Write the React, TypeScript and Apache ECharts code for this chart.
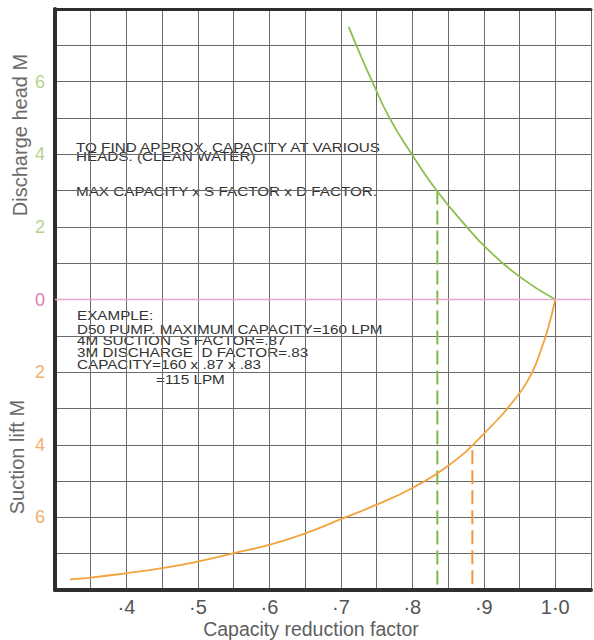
import React, { useEffect, useRef } from "react";
import * as echarts from "echarts";

// ---- data ----
// Discharge head curve (x = capacity reduction factor, y = head in metres, positive = discharge)
const dischargeCurve: [number, number][] = [
  [0.711, 7.51], [0.727, 6.75], [0.743, 6.04], [0.768, 5.0],
  [0.799, 4.01], [0.834, 3.0], [0.876, 2.0], [0.904, 1.41], [0.95, 0.63], [1.0, 0],
];
// Suction lift curve (negative y = suction lift in metres)
const suctionCurve: [number, number][] = [
  [0.321, -7.71], [0.35, -7.66], [0.399, -7.54], [0.45, -7.4], [0.499, -7.22],
  [0.549, -6.99], [0.601, -6.75], [0.65, -6.44], [0.7, -6.05], [0.75, -5.65],
  [0.8, -5.19], [0.85, -4.58], [0.9, -3.7], [0.95, -2.58], [0.968, -1.99],
  [0.98, -1.39], [0.99, -0.79], [1.0, 0],
];
// Example reading lines
const dFactorLine: [number, number][] = [[0.835, 3.0], [0.835, -8]];
const sFactorLine: [number, number][] = [[0.884, -4.15], [0.884, -8]];

const xRange = [0.3, 1.05];
const yRange = [-8, 8];
const xTickValues = [0.4, 0.5, 0.6, 0.7, 0.8, 0.9, 1.0];
const xTickLabels = ["·4", "·5", "·6", "·7", "·8", "·9", "1·0"];

const noteLines = [
  "TO FIND APPROX. CAPACITY AT VARIOUS",
  "HEADS. (CLEAN WATER)",
  "MAX CAPACITY x S FACTOR x D FACTOR.",
];
const exampleLines = [
  "EXAMPLE:",
  "D50 PUMP. MAXIMUM CAPACITY=160 LPM",
  "4M SUCTION  S FACTOR=.87",
  "3M DISCHARGE  D FACTOR=.83",
  "CAPACITY=160 x .87 x .83",
  "=115 LPM",
];

const FONT = '"Liberation Sans", Arial, Helvetica, sans-serif';

export default function App() {
  const ref = useRef<HTMLDivElement>(null);
  useEffect(() => {
    if (!ref.current) return;
    const chart = echarts.init(ref.current, null, { renderer: "svg" });

    const noteY = [148, 157, 192.5];
    const exY = [316.5, 330, 341.5, 353, 365, 380];
    const exX = [77, 77, 77, 77, 77, 156];
    const textStyleBase = {
      fontSize: 12.2,
      fontFamily: FONT,
      fill: "#333333",
      verticalAlign: "middle",
      align: "left",
    };
    const graphics: any[] = [];
    noteLines.forEach((t, i) => {
      graphics.push({
        type: "text", x: 76, y: noteY[i], scaleX: 1.25, silent: true,
        style: { ...textStyleBase, text: t },
      });
    });
    exampleLines.forEach((t, i) => {
      graphics.push({
        type: "text", x: exX[i], y: exY[i], scaleX: 1.25, silent: true,
        style: { ...textStyleBase, text: t },
      });
    });
    graphics.push({
      type: "text", x: 20, y: 135, rotation: Math.PI / 2, silent: true,
      style: { text: "Discharge head M", fontSize: 20, fontFamily: FONT, fill: "#6a6a6a", align: "center", verticalAlign: "middle" },
    });
    graphics.push({
      type: "text", x: 17, y: 457, rotation: Math.PI / 2, silent: true,
      style: { text: "Suction lift M", fontSize: 20, fontFamily: FONT, fill: "#6a6a6a", align: "center", verticalAlign: "middle" },
    });
    graphics.push({
      type: "text", x: 311, y: 629, silent: true,
      style: { text: "Capacity reduction factor", fontSize: 19.5, fontFamily: FONT, fill: "#5e5e5e", align: "center", verticalAlign: "middle" },
    });

    const option: any = {
      animation: false,
      backgroundColor: "#ffffff",
      grid: { left: 55, right: -1, top: 9, bottom: 50, containLabel: false },
      xAxis: [
        {
          type: "value",
          min: xRange[0],
          max: xRange[1],
          interval: 0.05,
          axisLine: { show: true, onZero: false, lineStyle: { color: "#2e2e2e", width: 4 } },
          axisTick: { show: false },
          splitLine: { show: true, lineStyle: { color: "#6a6a6a", width: 1 } },
          axisLabel: {
            margin: 7,
            fontSize: 20,
            fontFamily: FONT,
            color: "#555555",
            showMinLabel: true,
            showMaxLabel: true,
            formatter: (v: number) => {
              const k = Math.round(v * 100);
              const idx = xTickValues.findIndex((t) => Math.round(t * 100) === k);
              return idx >= 0 ? xTickLabels[idx] : "";
            },
          },
        },
        {
          type: "value",
          position: "top",
          min: xRange[0],
          max: xRange[1],
          interval: 0.05,
          axisLine: { show: true, onZero: false, lineStyle: { color: "#2e2e2e", width: 3 } },
          axisTick: { show: false },
          axisLabel: { show: false },
          splitLine: { show: false },
        },
      ],
      yAxis: {
        type: "value",
        min: yRange[0],
        max: yRange[1],
        interval: 1,
        axisLine: { show: true, onZero: false, lineStyle: { color: "#2e2e2e", width: 4 } },
        axisTick: { show: false },
        splitLine: { show: true, lineStyle: { color: "#6a6a6a", width: 1 } },
        axisLabel: {
          margin: 10,
          fontSize: 18,
          fontFamily: FONT,
          formatter: (v: number) => {
            const r = Math.round(v);
            if (r === 0) return "{z|0}";
            if (Math.abs(r) >= 8 || r % 2 !== 0) return "";
            return r > 0 ? `{g|${r}}` : `{o|${-r}}`;
          },
          rich: {
            g: { color: "#b3d48a", fontSize: 18, fontFamily: FONT },
            z: { color: "#d77ab8", fontSize: 18, fontFamily: FONT },
            o: { color: "#f2b068", fontSize: 18, fontFamily: FONT },
          },
        },
      },
      graphic: graphics,
      series: [
        {
          name: "Discharge head",
          type: "line",
          data: dischargeCurve,
          smooth: 0.5,
          showSymbol: false,
          symbol: "none",
          lineStyle: { color: "#8cbf4c", width: 1.8 },
          z: 4,
          markLine: {
            silent: true,
            symbol: ["none", "none"],
            label: { show: false },
            lineStyle: { color: "#eba6cc", width: 1.3, type: "solid" },
            data: [{ yAxis: 0 }],
          },
        },
        {
          name: "Suction lift",
          type: "line",
          data: suctionCurve,
          smooth: 0.5,
          showSymbol: false,
          symbol: "none",
          lineStyle: { color: "#f4a23e", width: 1.8 },
          z: 4,
        },
        {
          name: "D factor",
          type: "line",
          data: dFactorLine,
          showSymbol: false,
          symbol: "none",
          lineStyle: { color: "#7cb84a", width: 2, type: [14, 6] },
          z: 3,
        },
        {
          name: "S factor",
          type: "line",
          data: sFactorLine,
          showSymbol: false,
          symbol: "none",
          lineStyle: { color: "#f3963a", width: 2, type: [14, 6] },
          z: 3,
        },
      ],
    };
    chart.setOption(option);
    return () => chart.dispose();
  }, []);

  return (
    <div
      ref={ref}
      style={{ position: "absolute", left: 0, top: 0, width: 594, height: 640, background: "#fff" }}
    />
  );
}
